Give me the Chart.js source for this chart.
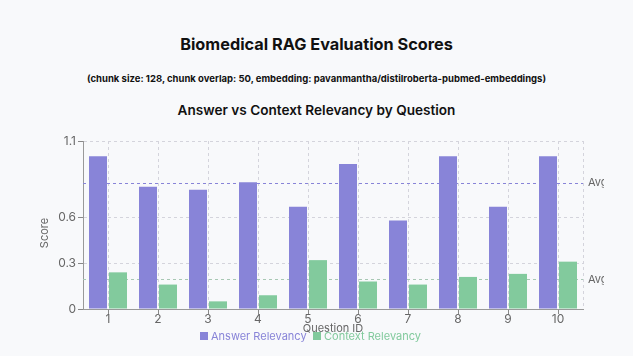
<!DOCTYPE html>
<html><head><meta charset="utf-8">
<script src="https://cdn.jsdelivr.net/npm/chart.js@4.4.1/dist/chart.umd.min.js"></script>
<style>
html,body{margin:0;padding:0;background:#f8f9fb;}
#wrap{position:relative;width:633px;height:356px;font-family:Inter,"Noto Sans",sans-serif;color:#111;}
.t{position:absolute;left:0;width:633px;text-align:center;white-space:nowrap;}
#t1{top:34px;font-size:16.3px;font-weight:700;}
#t2{top:73px;font-size:9.5px;font-weight:700;}
#t3{top:102px;font-size:13.6px;font-weight:600;}
canvas{position:absolute;left:0;top:0;}
</style></head>
<body><div id="wrap">
<div class="t" id="t1">Biomedical RAG Evaluation Scores</div>
<div class="t" id="t2">(chunk size: 128, chunk overlap: 50, embedding: pavanmantha/distilroberta-pubmed-embeddings)</div>
<div class="t" id="t3">Answer vs Context Relevancy by Question</div>
<canvas id="c" width="633" height="356"></canvas>
</div>
<script>
const questionIds = ["1","2","3","4","5","6","7","8","9","10"];
const answerRelevancy = [1.0, 0.80, 0.78, 0.83, 0.67, 0.95, 0.58, 1.0, 0.67, 1.0];
const contextRelevancy = [0.24, 0.16, 0.05, 0.09, 0.32, 0.18, 0.16, 0.21, 0.23, 0.31];
const yTicks = [0, 0.3, 0.6, 1.1];
const seriesNames = ["Answer Relevancy", "Context Relevancy"];
const colors = ["#8884d8", "#82ca9d"];

const avg = a => a.reduce((s,v)=>s+v,0)/a.length;
const avgs = [avg(answerRelevancy), avg(contextRelevancy)];

const extras = {
  id: 'extras',
  beforeDatasetsDraw(chart){
    const {ctx, chartArea:ca, scales:{y}} = chart;
    ctx.save();
    ctx.strokeStyle = '#d4d4dc'; ctx.lineWidth = 1; ctx.setLineDash([3,3]);
    ctx.beginPath(); ctx.moveTo(ca.right+0.5, ca.top); ctx.lineTo(ca.right+0.5, ca.bottom); ctx.stroke();
    avgs.forEach((v,i)=>{
      const py = Math.round(y.getPixelForValue(v))+0.5;
      ctx.strokeStyle = i===0 ? '#8884d8' : '#a8c8b4';
      ctx.setLineDash([3,3]);
      ctx.beginPath(); ctx.moveTo(ca.left, py); ctx.lineTo(ca.right, py); ctx.stroke();
    });
    ctx.restore();
  },
  afterDraw(chart){
    const {ctx, chartArea:ca, scales:{y}} = chart;
    ctx.save();
    ctx.font = '11px Inter, "Noto Sans", sans-serif';
    ctx.textBaseline = 'middle';
    ctx.save();
    ctx.beginPath(); ctx.rect(0,0,604,356); ctx.clip();
    ctx.fillStyle = '#666'; ctx.textAlign = 'left';
    avgs.forEach(v=>{ ctx.fillText('Avg: '+v.toFixed(2), ca.right+5, y.getPixelForValue(v)); });
    ctx.restore();
    ctx.save();
    ctx.translate(45, (ca.top+ca.bottom)/2 + 8);
    ctx.rotate(-Math.PI/2);
    ctx.textAlign='center'; ctx.fillStyle='#666';
    ctx.fillText('Score', 0, 0);
    ctx.restore();
    ctx.textAlign='center'; ctx.fillStyle='#666';
    ctx.fillText('Question ID', (ca.left+ca.right)/2, 329);
    const items = [[200, seriesNames[0], colors[0]], [313, seriesNames[1], colors[1]]];
    items.forEach(([x,label,col])=>{
      ctx.fillStyle = col;
      ctx.fillRect(x, 332, 8, 8);
      ctx.textAlign='left';
      ctx.fillText(label, x+11, 336.5);
    });
    ctx.restore();
  }
};

new Chart(document.getElementById('c'), {
  type: 'bar',
  data: {
    labels: questionIds,
    datasets: [
      {label: seriesNames[0], data: answerRelevancy, backgroundColor: colors[0]},
      {label: seriesNames[1], data: contextRelevancy, backgroundColor: colors[1]}
    ]
  },
  options: {
    responsive: false,
    animation: false,
    layout: {padding: {left: 0, right: 50, top: 141, bottom: 0}},
    datasets: {bar: {categoryPercentage: 0.8, barPercentage: 0.9}},
    plugins: {legend: {display: false}, tooltip: {enabled: false}},
    scales: {
      x: {
        afterFit(s){ s.height = 47; },
        grid: {offset: false, color: '#d4d4dc', tickColor: '#888', tickLength: 5, tickBorderDash: [], drawOnChartArea: true},
        border: {display: true, color: '#999', width: 1, dash: [3,3]},
        ticks: {color: '#666', font: {family: 'Inter', size: 12}, padding: -2, maxRotation: 0}
      },
      y: {
        min: 0, max: 1.1,
        afterFit(s){ s.width = 83; },
        afterBuildTicks(s){ s.ticks = yTicks.map(v=>({value:v})); },
        grid: {color: '#d4d4dc', tickColor: '#888', tickLength: 5, tickBorderDash: []},
        border: {display: true, color: '#999', width: 1, dash: [3,3]},
        ticks: {color: '#666', font: {family: 'Inter', size: 12}, padding: 2, callback: v => String(v)}
      }
    }
  },
  plugins: [extras]
});
</script>
</body></html>
